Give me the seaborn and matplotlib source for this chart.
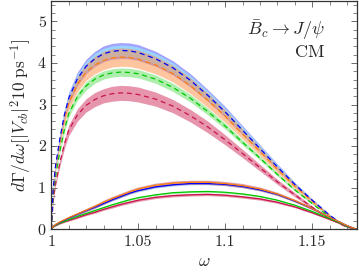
import numpy as np
import pandas as pd
import matplotlib
matplotlib.use('Agg')
import matplotlib.pyplot as plt
import seaborn as sns
from matplotlib.ticker import MultipleLocator, FixedLocator, FixedFormatter

# omega grid
w = [1.0, 1.001, 1.0025, 1.005, 1.0075, 1.01, 1.015, 1.02, 1.025, 1.03, 1.035, 1.04, 1.045,
     1.05, 1.06, 1.07, 1.08, 1.09, 1.10, 1.11, 1.12, 1.13, 1.14, 1.15, 1.16, 1.165, 1.17, 1.1755]

# upper group (dashed lines)
up_blue = [0, 0.95, 1.55, 2.2, 2.75, 3.15, 3.62, 3.92, 4.10, 4.22, 4.28, 4.30, 4.29,
           4.25, 4.10, 3.88, 3.58, 3.22, 2.82, 2.38, 1.94, 1.50, 1.08, 0.70, 0.34, 0.19, 0.07, 0]
up_orange = [0, 0.91, 1.49, 2.12, 2.65, 3.03, 3.49, 3.78, 3.95, 4.06, 4.12, 4.14, 4.13,
             4.09, 3.95, 3.74, 3.45, 3.10, 2.72, 2.29, 1.87, 1.44, 1.04, 0.67, 0.33, 0.18, 0.07, 0]
up_green = [0, 0.80, 1.30, 1.90, 2.40, 2.78, 3.19, 3.45, 3.61, 3.71, 3.76, 3.78, 3.77,
            3.74, 3.61, 3.41, 3.15, 2.83, 2.48, 2.09, 1.71, 1.32, 0.95, 0.62, 0.30, 0.17, 0.06, 0]
up_red = [0, 0.68, 1.12, 1.62, 2.05, 2.38, 2.75, 2.98, 3.12, 3.21, 3.26, 3.28, 3.27,
          3.24, 3.13, 2.96, 2.73, 2.46, 2.15, 1.82, 1.48, 1.14, 0.83, 0.53, 0.26, 0.15, 0.05, 0]
# half widths of the bands
up_blue_err = [0, 0.04, 0.07, 0.10, 0.12, 0.14, 0.16, 0.17, 0.18, 0.19, 0.19, 0.19, 0.19,
               0.19, 0.18, 0.17, 0.16, 0.14, 0.13, 0.11, 0.09, 0.07, 0.05, 0.03, 0.02, 0.01, 0.005, 0]
up_sky_err = [0, 0.03, 0.05, 0.08, 0.09, 0.10, 0.11, 0.12, 0.13, 0.13, 0.13, 0.13, 0.13,
              0.13, 0.13, 0.12, 0.11, 0.10, 0.09, 0.08, 0.07, 0.05, 0.04, 0.02, 0.01, 0.008, 0.004, 0]
up_orange_err = [0, 0.05, 0.08, 0.11, 0.14, 0.16, 0.18, 0.20, 0.21, 0.22, 0.22, 0.22, 0.22,
                 0.22, 0.21, 0.20, 0.19, 0.17, 0.15, 0.12, 0.10, 0.08, 0.06, 0.04, 0.02, 0.01, 0.005, 0]
up_green_err = [0, 0.02, 0.04, 0.05, 0.07, 0.08, 0.09, 0.10, 0.10, 0.10, 0.10, 0.10, 0.10,
                0.10, 0.10, 0.10, 0.09, 0.08, 0.07, 0.06, 0.05, 0.04, 0.03, 0.02, 0.01, 0.005, 0.003, 0]
up_red_err = [0, 0.04, 0.06, 0.09, 0.11, 0.13, 0.15, 0.16, 0.17, 0.17, 0.18, 0.18, 0.18,
              0.18, 0.17, 0.16, 0.15, 0.14, 0.12, 0.10, 0.08, 0.06, 0.05, 0.03, 0.015, 0.008, 0.003, 0]

# lower group (solid lines)
lo_orange = [0, 0.07, 0.12, 0.18, 0.23, 0.28, 0.37, 0.46, 0.55, 0.65, 0.74, 0.82, 0.90,
             0.97, 1.06, 1.11, 1.13, 1.13, 1.10, 1.05, 0.97, 0.85, 0.69, 0.50, 0.29, 0.19, 0.09, 0]
lo_blue = [0, 0.07, 0.115, 0.17, 0.22, 0.27, 0.36, 0.45, 0.53, 0.62, 0.71, 0.79, 0.87,
           0.93, 1.02, 1.07, 1.10, 1.10, 1.08, 1.03, 0.95, 0.84, 0.68, 0.50, 0.29, 0.19, 0.09, 0]
lo_green = [0, 0.06, 0.10, 0.15, 0.19, 0.23, 0.31, 0.38, 0.45, 0.52, 0.59, 0.65, 0.71,
            0.76, 0.83, 0.88, 0.90, 0.91, 0.89, 0.85, 0.79, 0.70, 0.58, 0.43, 0.26, 0.17, 0.08, 0]
lo_red = [0, 0.055, 0.09, 0.14, 0.18, 0.21, 0.28, 0.35, 0.41, 0.48, 0.54, 0.60, 0.65,
          0.70, 0.77, 0.81, 0.83, 0.84, 0.82, 0.78, 0.73, 0.65, 0.54, 0.40, 0.24, 0.16, 0.075, 0]
lo_orange_err = [0, 0.01, 0.015, 0.02, 0.025, 0.03, 0.035, 0.04, 0.045, 0.05, 0.05, 0.05, 0.05,
                 0.05, 0.05, 0.05, 0.05, 0.05, 0.05, 0.05, 0.045, 0.04, 0.035, 0.03, 0.02, 0.01, 0.005, 0]
lo_blue_err = [0, 0.005, 0.01, 0.01, 0.015, 0.015, 0.02, 0.02, 0.025, 0.025, 0.03, 0.03, 0.03,
               0.03, 0.03, 0.03, 0.03, 0.03, 0.03, 0.03, 0.03, 0.025, 0.02, 0.02, 0.015, 0.01, 0.005, 0]
lo_green_err = [0, 0.005, 0.005, 0.01, 0.01, 0.01, 0.015, 0.015, 0.015, 0.02, 0.02, 0.02, 0.02,
                0.02, 0.02, 0.02, 0.02, 0.02, 0.02, 0.02, 0.02, 0.015, 0.015, 0.01, 0.01, 0.005, 0.003, 0]
lo_red_err = [0, 0.005, 0.01, 0.01, 0.015, 0.015, 0.02, 0.02, 0.025, 0.025, 0.03, 0.03, 0.03,
              0.03, 0.03, 0.03, 0.03, 0.03, 0.03, 0.03, 0.03, 0.025, 0.02, 0.02, 0.015, 0.01, 0.005, 0]

xtick_pos = [1.0, 1.05, 1.1, 1.15]
xtick_lab = ['1', '1.05', '1.1', '1.15']
ytick_pos = [0, 1, 2, 3, 4, 5]
ytick_lab = ['0', '1', '2', '3', '4', '5']

c_blue = '#0000ff'
c_orange = '#ff7f0e'
c_green = '#00c800'
c_red = '#c8144b'

sns.set_style('ticks')
plt.rcParams['font.family'] = ['serif']
plt.rcParams['font.serif'] = ['cmr10', 'DejaVu Serif']
plt.rcParams['mathtext.fontset'] = 'cm'
plt.rcParams['axes.unicode_minus'] = False

fig = plt.figure(figsize=(3.59, 2.72), dpi=100)
ax = fig.add_axes([0.143, 0.157, 0.851, 0.841])

uo = np.array(up_orange)
ub = np.array(up_blue)
bands = [
    (up_red, up_red_err, c_red, 0.45),
    (up_green, up_green_err, '#33d633', 0.4),
    (up_blue, up_blue_err, '#6666ff', 0.6),
    (up_blue, up_sky_err, '#99ddff', 0.85),
    (up_orange, up_orange_err, '#ff8c40', 0.5),
    (lo_red, lo_red_err, c_red, 0.45),
    (lo_green, lo_green_err, '#33d633', 0.4),
    (lo_blue, lo_blue_err, '#3399ff', 0.4),
    (lo_orange, lo_orange_err, '#b8405a', 0.5),
]
for y, e, c, a in bands:
    y = np.array(y)
    e = np.array(e)
    ax.fill_between(w, y - e, y + e, color=c, alpha=a, lw=0)

lines = [
    (up_red, c_red, (4, 3)),
    (up_green, c_green, (4, 3)),
    (up_orange, c_orange, (4, 3)),
    (up_blue, c_blue, (4, 3)),
    (lo_red, c_red, ''),
    (lo_green, c_green, ''),
    (lo_blue, c_blue, ''),
    (lo_orange, c_orange, ''),
]
for y, c, d in lines:
    df = pd.DataFrame({'w': w, 'y': y})
    sns.lineplot(data=df, x='w', y='y', color=c, lw=0.9, ax=ax, sort=False,
                 dashes=False, linestyle='--' if d else '-')
    if d:
        ax.lines[-1].set_dashes(d)

ax.set_xlim(1.0, 1.1757)
ax.set_ylim(0, 5.5)
ax.xaxis.set_major_locator(FixedLocator(xtick_pos))
ax.xaxis.set_major_formatter(FixedFormatter(xtick_lab))
ax.yaxis.set_major_locator(FixedLocator(ytick_pos))
ax.yaxis.set_major_formatter(FixedFormatter(ytick_lab))
ax.xaxis.set_minor_locator(MultipleLocator(0.01))
ax.yaxis.set_minor_locator(MultipleLocator(0.2))
ax.tick_params(which='both', direction='in', top=True, right=True, color='#555555',
               labelsize=11.5, pad=4)
ax.tick_params(which='major', length=4, width=0.6)
ax.tick_params(which='minor', length=3, width=0.5)
for s in ax.spines.values():
    s.set_color('#333333')
    s.set_linewidth(0.9)

ax.set_xlabel(r'$\omega$', fontsize=12.5, labelpad=4)
ax.set_ylabel(r'$d\Gamma/d\omega[|V_{cb}|^2 10\ \mathrm{ps}^{-1}]$', fontsize=12.5, labelpad=3)
ax.text(0.895, 0.87, r'$\bar{B}_c \to J/\psi$', transform=ax.transAxes, ha='right',
        va='center', fontsize=13)
ax.text(0.895, 0.775, r'$\mathrm{CM}$', transform=ax.transAxes, ha='right',
        va='center', fontsize=13)

fig.savefig('out.png', dpi=100)
